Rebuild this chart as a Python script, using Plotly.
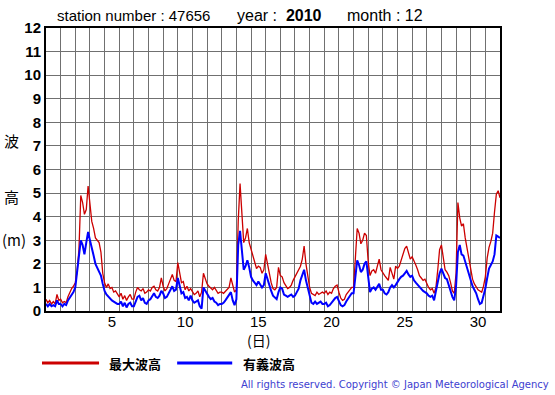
import plotly.graph_objects as go

# 3-hourly samples, Dec 1 00:00 .. Jan 1 00:00 (one row per day)
max_wave = [
    0.5, 0.35, 0.45, 0.3, 0.4, 0.3, 0.7, 0.45,
    0.5, 0.35, 0.4, 0.35, 0.6, 0.8, 0.95, 1.05,
    1.2, 1.7, 2.6, 4.9, 4.6, 4.1, 4.3, 5.3,
    4.4, 3.8, 3.5, 3.1, 3.0, 2.9, 2.5, 1.6,
    1.2, 1.0, 1.15, 0.95, 1.0, 0.8, 0.85, 0.7,
    0.6, 0.75, 0.5, 0.65, 0.45, 0.6, 0.7, 0.5,
    0.5, 0.8, 1.0, 0.9, 0.85, 0.95, 0.75, 0.8,
    0.9, 0.85, 1.0, 1.05, 0.9, 0.85, 1.0, 1.4,
    1.05, 0.85, 0.95, 1.15, 1.35, 1.55, 1.3, 1.25,
    2.05, 1.6, 1.2, 1.25, 0.9, 1.05, 0.85, 0.95,
    0.8, 0.7, 0.75, 0.85, 0.6, 0.8, 1.6, 1.35,
    1.15, 1.05, 0.95, 0.9, 1.0, 0.85, 0.75, 0.8,
    0.8, 0.75, 0.85, 0.9, 1.0, 1.4, 1.05, 0.8,
    0.9, 3.8, 5.4, 4.0, 2.9, 3.1, 3.5, 2.9,
    2.6, 2.3, 2.0, 1.8, 1.9, 1.85, 1.6, 1.75,
    2.4, 2.0, 1.5, 1.2, 0.95, 0.9, 1.0, 1.85,
    1.5, 1.45, 1.2, 1.05, 0.95, 1.0, 1.1, 1.3,
    1.45, 1.6, 1.75, 1.9, 2.2, 2.75, 2.0, 1.45,
    1.0, 0.75, 0.7, 0.65, 0.8, 0.7, 0.75, 0.8,
    0.75, 0.85, 0.7, 0.8, 0.75, 0.95, 1.05, 1.1,
    0.8, 0.55, 0.45, 0.5, 0.7, 0.8, 0.9, 1.0,
    1.0, 2.3, 3.5, 3.3, 2.85, 3.0, 3.3, 3.2,
    2.1, 1.5, 1.7, 1.75, 1.6, 1.9, 2.2, 1.75,
    1.6, 1.5, 1.4, 1.3, 1.85, 1.6, 1.35, 1.9,
    1.8, 1.9, 2.15, 2.4, 2.65, 2.75, 2.5, 2.2,
    2.3, 2.15, 1.95, 1.75, 1.5, 1.4, 1.3, 1.35,
    1.15, 1.0, 0.9, 0.95, 0.75, 1.0, 1.75, 2.6,
    2.8, 2.2, 1.75, 1.65, 1.5, 1.2, 0.85, 0.75,
    1.6, 4.6, 3.95, 3.6, 3.7, 3.1, 2.65, 2.25,
    1.75, 1.35, 1.15, 1.0, 0.9, 0.85, 0.8, 1.05,
    1.45, 2.25, 2.7, 2.95, 3.3, 4.2, 4.95, 5.1,
    4.8,
]

sig_wave = [
    0.3, 0.2, 0.3, 0.2, 0.25, 0.2, 0.45, 0.3,
    0.3, 0.2, 0.3, 0.25, 0.45, 0.55, 0.7, 0.8,
    1.0, 1.6, 2.4, 3.0, 2.8, 2.4, 2.9, 3.35,
    3.0, 2.6, 2.35, 2.0, 1.85, 1.65, 1.5, 1.15,
    0.85, 0.7, 0.6, 0.55, 0.45, 0.4, 0.35, 0.3,
    0.3, 0.4, 0.2, 0.35, 0.15, 0.3, 0.35, 0.2,
    0.2, 0.45, 0.6, 0.65, 0.45, 0.55, 0.35, 0.3,
    0.45, 0.5, 0.6, 0.75, 0.6, 0.55, 0.65, 0.85,
    0.75, 0.55, 0.6, 0.75, 0.95, 1.05, 0.85, 0.9,
    1.4, 1.05, 0.75, 0.8, 0.55, 0.6, 0.45, 0.65,
    0.45, 0.35, 0.4, 0.45, 0.2, 0.1, 1.0, 0.85,
    0.75, 0.6, 0.5, 0.55, 0.4, 0.35, 0.25, 0.3,
    0.3, 0.35, 0.45, 0.55, 0.7, 0.8, 0.45, 0.25,
    0.5, 2.8, 3.4, 2.7, 1.75, 1.9, 2.15, 1.85,
    1.45, 1.3, 1.2, 1.1, 1.25, 1.15, 1.0, 1.1,
    1.6, 1.35, 1.05, 0.85, 0.65, 0.55, 0.5, 0.8,
    1.0, 0.95, 0.7, 0.65, 0.6, 0.65, 0.7, 0.6,
    0.65, 0.8, 0.95, 1.3, 1.5, 1.75, 1.3, 0.95,
    0.6, 0.35, 0.3, 0.4, 0.3, 0.35, 0.4, 0.3,
    0.3, 0.35, 0.2, 0.25, 0.35, 0.5, 0.55, 0.6,
    0.4, 0.25, 0.2, 0.25, 0.4, 0.5, 0.6, 0.75,
    0.75, 1.6, 2.15, 1.95, 1.65, 1.75, 2.0, 2.1,
    1.45, 0.8, 0.95, 1.0, 0.9, 1.05, 1.15, 0.9,
    0.9, 0.75, 0.7, 0.8, 1.0, 1.1, 1.0, 1.1,
    1.25, 1.35, 1.45, 1.5, 1.6, 1.7, 1.55, 1.45,
    1.5, 1.3, 1.2, 1.1, 1.0, 0.9, 0.85, 0.8,
    0.75, 0.65, 0.6, 0.65, 0.45, 0.85, 1.25, 1.6,
    1.8, 1.6, 1.4, 1.35, 1.05, 0.85, 0.6, 0.45,
    1.05, 2.5, 2.8, 2.4, 2.35, 2.1, 1.75, 1.5,
    1.3, 1.05, 0.9, 0.75, 0.5, 0.3, 0.35, 0.6,
    0.95, 1.4, 1.8, 1.95, 2.1, 2.4, 3.2, 3.15,
    3.1,
]

hours = list(range(0, 3 * len(max_wave), 3))
days = [h / 24 for h in hours]   # days since Dec 1 00:00

day_labels = ["5", "10", "15", "20", "25", "30"]
day_label_pos = [4.5, 9.5, 14.5, 19.5, 24.5, 29.5]   # labels centred in the day

FONT = "Liberation Sans, Arial, sans-serif"
CJK = "Noto Sans CJK JP, sans-serif"

fig = go.Figure()
fig.add_trace(go.Scatter(x=days, y=max_wave, mode="lines", name="最大波高",
                         line=dict(color="#cc0000", width=1.3), showlegend=False))
fig.add_trace(go.Scatter(x=days, y=sig_wave, mode="lines", name="有義波高",
                         line=dict(color="#0000ff", width=2), showlegend=False))

fig.update_layout(
    width=555, height=395,
    margin=dict(l=46, r=55, t=28, b=84),
    paper_bgcolor="white", plot_bgcolor="white",
    font=dict(family=FONT, color="black"),
    xaxis=dict(range=[0, 31], tickmode="array", tickvals=day_label_pos, ticktext=day_labels,
               showgrid=False, ticks="", tickfont=dict(size=15, family=FONT),
               ticklabelstandoff=-4,
               showline=True, linecolor="black", linewidth=2, mirror=True,
               minor=dict(tick0=0, dtick=1, showgrid=True, gridcolor="#707070", gridwidth=1, ticks=""),
               zeroline=False, fixedrange=True, automargin=False),
    yaxis=dict(range=[0, 12], dtick=1, showgrid=True, gridcolor="#707070", gridwidth=1,
               ticks="", tickfont=dict(size=15, family=FONT, weight="bold"),
               showline=True, linecolor="black", linewidth=2, mirror=True,
               zeroline=False, fixedrange=True, automargin=False),
)

def px_x(px):
    return (px - 46) / 453.5

def px_y(py):
    return (311 - py) / 283

ann = [
    dict(text="station number : 47656", x=px_x(55), y=px_y(16), xanchor="left", font=dict(size=15)),
    dict(text="year :  <b>2010</b>", x=px_x(235), y=px_y(16), xanchor="left", font=dict(size=16)),
    dict(text="month : 12", x=px_x(345), y=px_y(16), xanchor="left", font=dict(size=16)),
    dict(text="波", x=px_x(12), y=px_y(140), font=dict(size=15, family=CJK)),
    dict(text="高", x=px_x(12), y=px_y(196), font=dict(size=15, family=CJK)),
    dict(text="(m)", x=px_x(14), y=px_y(239), font=dict(size=15, family=CJK)),
    dict(text="(日)", x=px_x(258), y=px_y(340), font=dict(size=14, family=CJK)),
    dict(text="<b>最大波高</b>", x=px_x(107), y=px_y(363), xanchor="left", font=dict(size=13, family=CJK)),
    dict(text="<b>有義波高</b>", x=px_x(241), y=px_y(363), xanchor="left", font=dict(size=13, family=CJK)),
    dict(text="All rights reserved. Copyright © Japan Meteorological Agency", x=px_x(550), y=px_y(384),
         xanchor="right", font=dict(size=10, color="#4040d0", family="DejaVu Sans, sans-serif")),
]
for a in ann:
    a.update(xref="paper", yref="paper", showarrow=False, yanchor="middle")
    a.setdefault("xanchor", "center")
fig.update_layout(annotations=ann)

fig.add_shape(type="line", xref="paper", yref="paper", x0=px_x(42), x1=px_x(99), y0=px_y(363), y1=px_y(363),
              line=dict(color="#cc0000", width=3))
fig.add_shape(type="line", xref="paper", yref="paper", x0=px_x(177), x1=px_x(232), y0=px_y(363), y1=px_y(363),
              line=dict(color="#0000ff", width=3))

fig.write_html("out.html", config={"displayModeBar": False},
               post_script="document.body.style.margin='0px';document.body.style.overflow='hidden';")
